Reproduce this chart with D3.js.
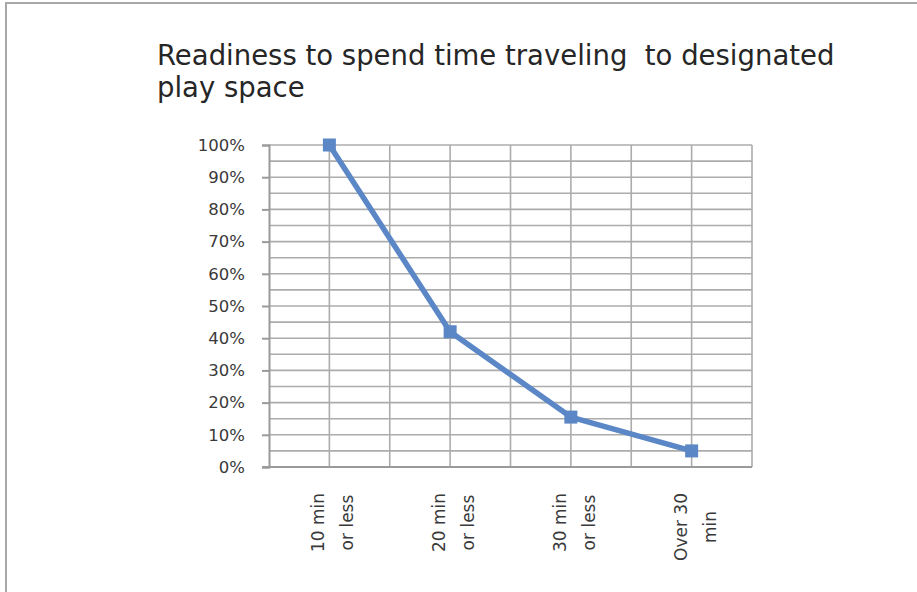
<!DOCTYPE html>
<html>
<head>
<meta charset="utf-8">
<script src="https://cdn.jsdelivr.net/npm/d3@7"></script>
<style>
  body { margin: 0; background: #fff; }
  text { font-family: "Century Gothic", "DejaVu Sans", sans-serif; }
</style>
</head>
<body>
<div id="chart"></div>
<script>
// chart data
const categories = [["10 min", "or less"], ["20 min", "or less"], ["30 min", "or less"], ["Over 30", "min"]];
const values = [1.0, 0.42, 0.155, 0.05];
const yTicks = [0, 0.1, 0.2, 0.3, 0.4, 0.5, 0.6, 0.7, 0.8, 0.9, 1.0];
const titleLines = ["Readiness to spend time traveling  to designated", "play space"];

const width = 917, height = 592;
const plot = { left: 269, right: 752, top: 145, bottom: 467 };
const blue = "#5b87c6";

const svg = d3.select("#chart").append("svg")
  .attr("width", width)
  .attr("height", height);

// outer frame (only top + left visible)
svg.append("rect")
  .attr("x", 6).attr("y", 3)
  .attr("width", 1000).attr("height", 1000)
  .attr("fill", "none")
  .attr("stroke", "#a8a8a8")
  .attr("stroke-width", 2);

// title
svg.append("g").selectAll("text")
  .data(titleLines)
  .join("text")
  .attr("x", 157)
  .attr("y", (d, i) => 65 + i * 32)
  .attr("font-size", "27.5px")
  .attr("fill", "#262626")
  .style("white-space", "pre")
  .text(d => d);

const x = d3.scalePoint()
  .domain(d3.range(categories.length))
  .range([plot.left, plot.right])
  .padding(0.5);
const y = d3.scaleLinear().domain([0, 1]).range([plot.bottom, plot.top]);

// horizontal gridlines every 5%
const minor = d3.range(0, 1.0001, 0.05);
svg.append("g").selectAll("line")
  .data(minor)
  .join("line")
  .attr("x1", plot.left).attr("x2", plot.right)
  .attr("y1", d => y(d)).attr("y2", d => y(d))
  .attr("stroke", "#acacac")
  .attr("stroke-width", 1.6);

// vertical gridlines at category centres and boundaries
const step = x.step();
const vx = [];
x.domain().forEach(i => { vx.push(x(i) - step / 2, x(i)); });
vx.push(plot.right);
svg.append("g").selectAll("line")
  .data(vx.slice(1))
  .join("line")
  .attr("x1", d => d).attr("x2", d => d)
  .attr("y1", plot.top).attr("y2", plot.bottom)
  .attr("stroke", "#acacac")
  .attr("stroke-width", 1.6);

// y axis
const yAxis = d3.axisLeft(y)
  .tickValues(yTicks)
  .tickFormat(d3.format(".0%"))
  .tickSize(7)
  .tickPadding(17);
const gy = svg.append("g")
  .attr("transform", `translate(${plot.left},0)`)
  .call(yAxis);
gy.select(".domain").attr("stroke", "#9a9a9a").attr("stroke-width", 2);
gy.selectAll(".tick line").attr("stroke", "#9a9a9a").attr("stroke-width", 2);
gy.selectAll(".tick text")
  .attr("font-size", "16.5px")
  .attr("fill", "#3a3a3a")
  .attr("font-family", "\"Century Gothic\", \"DejaVu Sans\", sans-serif");

// x axis line
svg.append("line")
  .attr("x1", plot.left - 7).attr("x2", plot.right)
  .attr("y1", plot.bottom).attr("y2", plot.bottom)
  .attr("stroke", "#9a9a9a")
  .attr("stroke-width", 2);

// rotated category labels
const xl = svg.append("g").selectAll("g")
  .data(categories)
  .join("g")
  .attr("transform", (d, i) => `translate(${x(i)},493) rotate(-90)`);
xl.each(function (lines) {
  const g = d3.select(this);
  const t = g.selectAll("text")
    .data(lines)
    .join("text")
    .attr("font-size", "17px")
    .attr("fill", "#3a3a3a")
    .attr("text-anchor", "middle")
    .attr("y", (d, i) => -5 + i * 29)
    .text(d => d);
  const maxLen = d3.max(t.nodes(), n => n.getComputedTextLength());
  t.attr("x", -maxLen / 2);
});

// line + markers
const line = d3.line()
  .x((d, i) => x(i))
  .y(d => y(d));
svg.append("path")
  .datum(values)
  .attr("d", line)
  .attr("fill", "none")
  .attr("stroke", blue)
  .attr("stroke-width", 5.5)
  .attr("stroke-linejoin", "round");

svg.append("g").selectAll("rect")
  .data(values)
  .join("rect")
  .attr("x", (d, i) => x(i) - 6.5)
  .attr("y", d => y(d) - 6.5)
  .attr("width", 13).attr("height", 13)
  .attr("fill", blue);
</script>
</body>
</html>
